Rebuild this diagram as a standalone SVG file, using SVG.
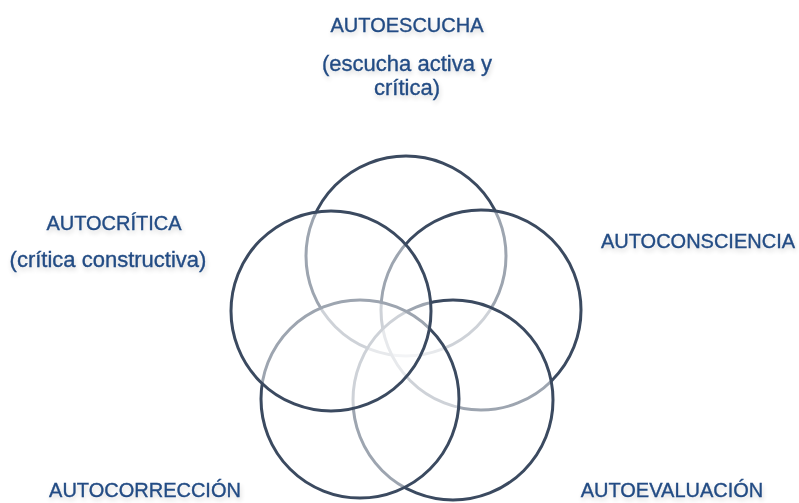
<svg xmlns="http://www.w3.org/2000/svg" width="799" height="503" viewBox="0 0 799 503">
<defs>
<filter id="glow" x="-10%" y="-30%" width="120%" height="170%">
<feGaussianBlur in="SourceAlpha" stdDeviation="2.5"/>
<feOffset dx="1" dy="3" result="b"/>
<feComponentTransfer><feFuncA type="linear" slope="0.16"/></feComponentTransfer>
<feMerge><feMergeNode/><feMergeNode in="SourceGraphic"/></feMerge>
</filter>
</defs>
<style>
.c{fill:#ffffff;fill-opacity:0.5;stroke:#3b4a60;stroke-width:3}
.t{font-family:"Liberation Sans",Arial,sans-serif;fill:#234c84;stroke:#234c84;stroke-width:0.35;text-anchor:middle;filter:url(#glow)}
.h{font-size:20px}
.s{font-size:22px}
</style>
<rect width="799" height="503" fill="#ffffff"/>
<g id="connectors"></g>
<g id="autoescucha">
<circle class="c" cx="406" cy="256" r="100"/>
<text class="t h" x="407" y="32">AUTOESCUCHA</text>
<text class="t s" x="407" y="71">(escucha activa y</text>
<text class="t s" x="407" y="95">crítica)</text>
</g>
<g id="autoconsciencia">
<circle class="c" cx="481" cy="310" r="100"/>
<text class="t h" x="698" y="248">AUTOCONSCIENCIA</text>
</g>
<g id="autoevaluacion">
<circle class="c" cx="453" cy="400" r="100"/>
<text class="t h" x="672" y="497">AUTOEVALUACIÓN</text>
</g>
<g id="autocorreccion">
<circle class="c" cx="360" cy="399" r="99"/>
<text class="t h" x="145" y="497">AUTOCORRECCIÓN</text>
</g>
<g id="autocritica">
<circle class="c" cx="331" cy="311" r="100"/>
<text class="t h" x="114" y="230">AUTOCRÍTICA</text>
<text class="t s" x="108" y="267">(crítica constructiva)</text>
</g>
</svg>
